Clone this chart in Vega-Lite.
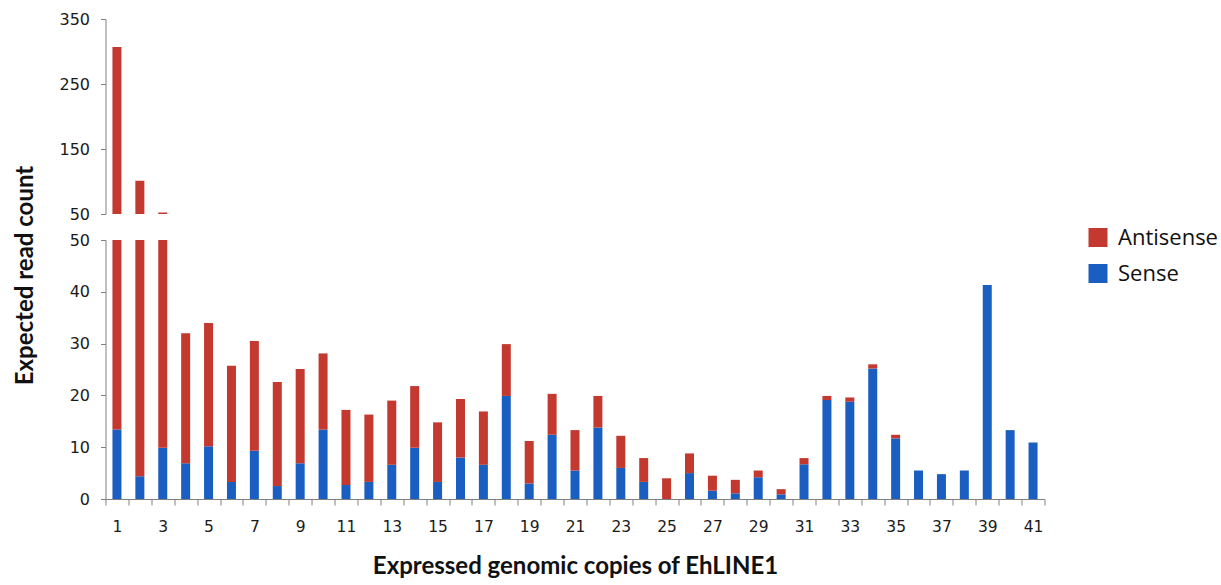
{
  "$schema": "https://vega.github.io/schema/vega-lite/v6.json",
  "padding": {"left": 12.5, "top": 11, "right": 5, "bottom": 3},
  "background": "white",
  "bounds": "flush",
  "data": {"values": [
    {"id":1,"strand":"Sense","value":13.4},{"id":1,"strand":"Antisense","value":293.6},
    {"id":2,"strand":"Sense","value":4.4},{"id":2,"strand":"Antisense","value":96.6},
    {"id":3,"strand":"Sense","value":9.9},{"id":3,"strand":"Antisense","value":42.6},
    {"id":4,"strand":"Sense","value":6.9},{"id":4,"strand":"Antisense","value":25.1},
    {"id":5,"strand":"Sense","value":10.2},{"id":5,"strand":"Antisense","value":23.8},
    {"id":6,"strand":"Sense","value":3.3},{"id":6,"strand":"Antisense","value":22.4},
    {"id":7,"strand":"Sense","value":9.3},{"id":7,"strand":"Antisense","value":21.2},
    {"id":8,"strand":"Sense","value":2.5},{"id":8,"strand":"Antisense","value":20.1},
    {"id":9,"strand":"Sense","value":6.9},{"id":9,"strand":"Antisense","value":18.2},
    {"id":10,"strand":"Sense","value":13.4},{"id":10,"strand":"Antisense","value":14.7},
    {"id":11,"strand":"Sense","value":2.7},{"id":11,"strand":"Antisense","value":14.5},
    {"id":12,"strand":"Sense","value":3.3},{"id":12,"strand":"Antisense","value":13.0},
    {"id":13,"strand":"Sense","value":6.6},{"id":13,"strand":"Antisense","value":12.4},
    {"id":14,"strand":"Sense","value":9.9},{"id":14,"strand":"Antisense","value":11.9},
    {"id":15,"strand":"Sense","value":3.3},{"id":15,"strand":"Antisense","value":11.5},
    {"id":16,"strand":"Sense","value":8.0},{"id":16,"strand":"Antisense","value":11.3},
    {"id":17,"strand":"Sense","value":6.6},{"id":17,"strand":"Antisense","value":10.3},
    {"id":18,"strand":"Sense","value":19.9},{"id":18,"strand":"Antisense","value":10.0},
    {"id":19,"strand":"Sense","value":3.0},{"id":19,"strand":"Antisense","value":8.2},
    {"id":20,"strand":"Sense","value":12.4},{"id":20,"strand":"Antisense","value":7.9},
    {"id":21,"strand":"Sense","value":5.5},{"id":21,"strand":"Antisense","value":7.8},
    {"id":22,"strand":"Sense","value":13.8},{"id":22,"strand":"Antisense","value":6.1},
    {"id":23,"strand":"Sense","value":6.0},{"id":23,"strand":"Antisense","value":6.2},
    {"id":24,"strand":"Sense","value":3.3},{"id":24,"strand":"Antisense","value":4.6},
    {"id":25,"strand":"Sense","value":0},{"id":25,"strand":"Antisense","value":4.0},
    {"id":26,"strand":"Sense","value":5.0},{"id":26,"strand":"Antisense","value":3.8},
    {"id":27,"strand":"Sense","value":1.6},{"id":27,"strand":"Antisense","value":2.9},
    {"id":28,"strand":"Sense","value":1.1},{"id":28,"strand":"Antisense","value":2.6},
    {"id":29,"strand":"Sense","value":4.2},{"id":29,"strand":"Antisense","value":1.3},
    {"id":30,"strand":"Sense","value":0.9},{"id":30,"strand":"Antisense","value":1.0},
    {"id":31,"strand":"Sense","value":6.7},{"id":31,"strand":"Antisense","value":1.2},
    {"id":32,"strand":"Sense","value":19.1},{"id":32,"strand":"Antisense","value":0.8},
    {"id":33,"strand":"Sense","value":18.8},{"id":33,"strand":"Antisense","value":0.8},
    {"id":34,"strand":"Sense","value":25.2},{"id":34,"strand":"Antisense","value":0.8},
    {"id":35,"strand":"Sense","value":11.7},{"id":35,"strand":"Antisense","value":0.7},
    {"id":36,"strand":"Sense","value":5.5},{"id":36,"strand":"Antisense","value":0},
    {"id":37,"strand":"Sense","value":4.8},{"id":37,"strand":"Antisense","value":0},
    {"id":38,"strand":"Sense","value":5.5},{"id":38,"strand":"Antisense","value":0},
    {"id":39,"strand":"Sense","value":41.3},{"id":39,"strand":"Antisense","value":0},
    {"id":40,"strand":"Sense","value":13.3},{"id":40,"strand":"Antisense","value":0},
    {"id":41,"strand":"Sense","value":10.9},{"id":41,"strand":"Antisense","value":0}
  ]},
  "spacing": 26,
  "resolve": {"scale": {"y": "independent", "x": "shared", "color": "shared"}},
  "vconcat": [
    {
      "width": 939,
      "height": 195,
      "mark": {"type": "bar", "width": 9, "clip": true},
      "encoding": {
        "x": {"field": "id", "type": "ordinal", "scale": {"paddingInner": 0, "paddingOuter": 0}, "axis": null},
        "y": {"field": "value", "type": "quantitative", "stack": "zero",
              "scale": {"domain": [50, 350], "nice": false, "zero": false},
              "axis": {"values": [50, 150, 250, 350], "title": null, "grid": false, "labelFontSize": 16, "labelPadding": 11}},
        "color": {"field": "strand", "type": "nominal",
                  "scale": {"domain": ["Antisense", "Sense"], "range": ["#C3382F", "#1B5EC1"]},
                  "legend": {"title": null, "orient": "none", "legendX": 981.5, "legendY": 207.5}},
        "order": {"field": "strand", "sort": "descending"}
      }
    },
    {
      "width": 939,
      "height": 259,
      "mark": {"type": "bar", "width": 9, "clip": true},
      "encoding": {
        "x": {"field": "id", "type": "ordinal", "scale": {"paddingInner": 0, "paddingOuter": 0},
              "axis": {"title": "Expressed genomic copies of EhLINE1", "labelAngle": 0, "tickBand": "extent",
                       "labelExpr": "datum.value % 2 == 1 ? datum.label : ''",
                       "labelFontSize": 15.5, "labelPadding": 14, "tickSize": 6,
                       "titleFont": "Lato", "titleFontSize": 24, "titleFontWeight": "bold", "titlePadding": 20}},
        "y": {"field": "value", "type": "quantitative", "stack": "zero",
              "scale": {"domain": [0, 50], "nice": false},
              "axis": {"values": [0, 10, 20, 30, 40, 50], "title": "Expected read count", "grid": false,
                       "labelFontSize": 16, "labelPadding": 11,
                       "titleFont": "Lato", "titleFontSize": 24, "titleFontWeight": "bold",
                       "titleX": -80, "titleY": 35, "titleAlign": "center", "titleBaseline": "middle", "titleAngle": -90}},
        "color": {"field": "strand", "type": "nominal"},
        "order": {"field": "strand", "sort": "descending"}
      }
    }
  ],
  "config": {
    "view": {"stroke": null},
    "axis": {"labelFont": "DejaVu Sans", "labelColor": "#1a1a1a", "domainColor": "#808080", "tickColor": "#808080", "tickSize": 5, "titleColor": "#111111"},
    "legend": {"labelFont": "Open Sans", "labelFontSize": 22, "labelColor": "#111111", "symbolType": "square", "symbolSize": 361, "symbolStrokeWidth": 0, "rowPadding": 14, "labelOffset": 9}
  }
}
